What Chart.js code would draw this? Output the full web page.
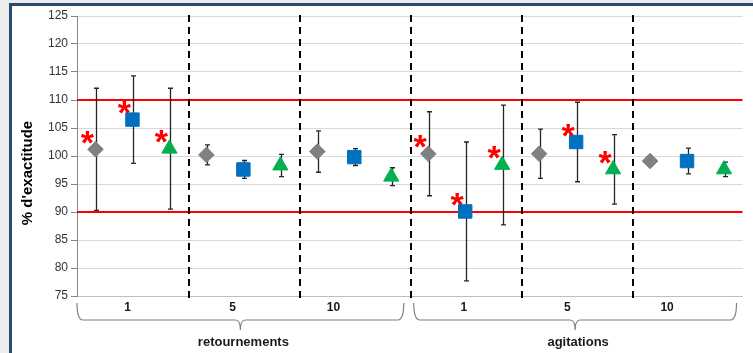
<!DOCTYPE html>
<html>
<head>
<meta charset="utf-8">
<script src="https://cdn.jsdelivr.net/npm/chart.js@4/dist/chart.umd.min.js"></script>
<style>
  html, body { margin: 0; padding: 0; background: #eeeeee; overflow: hidden; }
  #frame {
    position: absolute; left: 9px; top: 3px; width: 900px; height: 500px;
    background: #ffffff; border-left: 3px solid #2b4a70; border-top: 3px solid #2b4a70;
  }
  #c { position: absolute; left: 0; top: 0; }
</style>
</head>
<body>
<div id="frame"></div>
<canvas id="c" width="753" height="353"></canvas>
<script>
// Sub-groups (number of inversions / agitations) and the two mixing methods
const groupLabels = ['1', '5', '10', '1', '5', '10'];
const methodLabels = ['retournements', 'agitations'];

// Mean accuracy (%) per sub-group, one array per series
const serieA = [101.2, 100.2, 100.8, 100.4, 100.4, 99.1];
const serieB = [106.5, 97.6, 99.8, 90.1, 102.5, 99.1];
const serieC = [101.3, 98.3, 96.3, 98.4, 97.6, 97.6];

// Half-width of the error bars
const errA = [10.9, 1.8, 3.7, 7.5, 4.4, 0.6];
const errB = [7.8, 1.6, 1.5, 12.4, 7.1, 2.3];
const errC = [10.8, 2.0, 1.6, 10.7, 6.2, 1.3];

// Significant difference flags (drawn as a red asterisk)
const sigA = [1, 0, 0, 1, 0, 0];
const sigB = [1, 0, 0, 1, 1, 0];
const sigC = [1, 0, 0, 1, 1, 0];

// Accuracy limits and y-axis ticks
const limits = [90, 110];
const yTicks = [75, 80, 85, 90, 95, 100, 105, 110, 115, 120, 125];

const series = [
  { name: 'Série 1', values: serieA, err: errA, sig: sigA, color: '#808080', style: 'rectRot', radius: 7.8 },
  { name: 'Série 2', values: serieB, err: errB, sig: sigB, color: '#0070C0', style: 'rect', radius: 9.5 },
  { name: 'Série 3', values: serieC, err: errC, sig: sigC, color: '#00B050', style: 'triangle', radius: 8.8 }
];
const nSeries = series.length;

const datasets = series.map((s, si) => ({
  label: s.name,
  data: s.values.map((v, g) => ({ x: g * nSeries + si, y: v })),
  showLine: false,
  pointStyle: s.style,
  pointRadius: s.radius,
  pointHoverRadius: s.radius,
  backgroundColor: s.color,
  borderColor: s.color,
  borderWidth: 1
}));

// Limit lines, group separators and error bars, drawn under the markers
const underlayPlugin = {
  id: 'underlay',
  beforeDatasetsDraw(chart) {
    const { ctx, chartArea: a, scales: { x, y } } = chart;
    ctx.save();
    // red accuracy limits
    ctx.strokeStyle = '#FF0000';
    ctx.lineWidth = 2;
    limits.forEach(v => {
      const py = Math.round(y.getPixelForValue(v));
      ctx.beginPath(); ctx.moveTo(a.left, py); ctx.lineTo(a.right, py); ctx.stroke();
    });
    // dashed separators between sub-groups
    ctx.strokeStyle = '#000000';
    ctx.lineWidth = 2;
    ctx.setLineDash([7, 5]);
    for (let g = 1; g < groupLabels.length; g++) {
      const px = Math.round(x.getPixelForValue(g * nSeries - 0.5)) + 1;
      ctx.beginPath(); ctx.moveTo(px, a.top - 1); ctx.lineTo(px, a.bottom + 4); ctx.stroke();
    }
    ctx.setLineDash([]);
    // error bars
    ctx.strokeStyle = '#262626';
    ctx.lineWidth = 1.3;
    series.forEach((s, si) => {
      s.values.forEach((v, g) => {
        const px = Math.round(x.getPixelForValue(g * nSeries + si)) + 1.5;
        const top = y.getPixelForValue(v + s.err[g]);
        const bot = y.getPixelForValue(v - s.err[g]);
        ctx.beginPath();
        ctx.moveTo(px, top); ctx.lineTo(px, bot);
        ctx.moveTo(px - 2.5, top); ctx.lineTo(px + 2.5, top);
        ctx.moveTo(px - 2.5, bot); ctx.lineTo(px + 2.5, bot);
        ctx.stroke();
      });
    });
    ctx.restore();
  }
};

// Asterisks, sub-group labels, braces and method labels
const overlayPlugin = {
  id: 'overlay',
  afterDatasetsDraw(chart) {
    const { ctx, chartArea: a, scales: { x, y } } = chart;
    ctx.save();
    // significance asterisks, up-left of the flagged marker
    ctx.fillStyle = '#FF0000';
    ctx.font = 'bold 34px "Liberation Sans"';
    ctx.textAlign = 'center';
    ctx.textBaseline = 'alphabetic';
    const m = ctx.measureText('*');
    const mid = (m.actualBoundingBoxAscent - m.actualBoundingBoxDescent) / 2;
    series.forEach((s, si) => {
      s.sig.forEach((f, g) => {
        if (!f) return;
        const px = x.getPixelForValue(g * nSeries + si) - 8;
        const py = y.getPixelForValue(s.values[g]) - 12;
        ctx.fillText('*', px, py + mid);
      });
    });

    // braces under each mixing method
    const perMethod = groupLabels.length / methodLabels.length;
    const fractions = [0.155, 0.476, 0.785];
    methodLabels.forEach((name, mi) => {
      const x0 = x.getPixelForValue(mi * perMethod * nSeries - 0.5) + (mi === 0 ? 0 : 4);
      const x1 = x.getPixelForValue((mi + 1) * perMethod * nSeries - 0.5) - 6;
      const xc = (x0 + x1) / 2;
      const yTop = a.bottom + 7, yMid = a.bottom + 24, yTip = a.bottom + 34;
      ctx.strokeStyle = '#7f7f7f';
      ctx.lineWidth = 1.2;
      ctx.beginPath();
      ctx.moveTo(x0, yTop);
      ctx.quadraticCurveTo(x0, yMid, x0 + 6, yMid);
      ctx.lineTo(xc - 5, yMid);
      ctx.quadraticCurveTo(xc, yMid, xc, yTip);
      ctx.quadraticCurveTo(xc, yMid, xc + 5, yMid);
      ctx.lineTo(x1 - 6, yMid);
      ctx.quadraticCurveTo(x1, yMid, x1, yTop);
      ctx.stroke();

      // sub-group labels
      ctx.fillStyle = '#1a1a1a';
      ctx.font = 'bold 12px "Liberation Sans"';
      ctx.textAlign = 'center';
      ctx.textBaseline = 'middle';
      for (let k = 0; k < perMethod; k++) {
        ctx.fillText(groupLabels[mi * perMethod + k], x0 + fractions[k] * (x1 - x0), a.bottom + 12);
      }
      // method label
      ctx.font = 'bold 13px "Liberation Sans"';
      ctx.fillText(name, xc + 3, a.bottom + 46);
    });

    // y-axis title
    ctx.translate(28, 173);
    ctx.rotate(-Math.PI / 2);
    ctx.font = 'bold 15px "Liberation Sans"';
    ctx.fillStyle = '#000000';
    ctx.textAlign = 'center';
    ctx.textBaseline = 'middle';
    ctx.fillText("% d'exactitude", 0, 0);
    ctx.restore();
  }
};

new Chart(document.getElementById('c'), {
  type: 'scatter',
  data: { datasets },
  options: {
    responsive: false,
    animation: false,
    layout: { padding: { left: 0, right: 3, top: 16, bottom: 57 } },
    plugins: { legend: { display: false }, tooltip: { enabled: false }, title: { display: false } },
    scales: {
      x: {
        type: 'linear',
        min: -0.5,
        max: groupLabels.length * nSeries - 0.5,
        grid: { display: false, drawTicks: false },
        ticks: { display: false },
        border: { display: true, color: '#bfbfbf', width: 1 }
      },
      y: {
        type: 'linear',
        min: yTicks[0],
        max: yTicks[yTicks.length - 1],
        afterBuildTicks: scale => { scale.ticks = yTicks.map(v => ({ value: v })); },
        afterFit: scale => { scale.width = 77; },
        grid: { color: '#d9d9d9', lineWidth: 1, drawTicks: true, tickLength: 6, tickColor: '#868686' },
        border: { display: true, color: '#868686', width: 1 },
        ticks: { color: '#333333', padding: 3, font: { family: 'Liberation Sans', size: 12 } }
      }
    }
  },
  plugins: [underlayPlugin, overlayPlugin]
});
</script>
</body>
</html>
